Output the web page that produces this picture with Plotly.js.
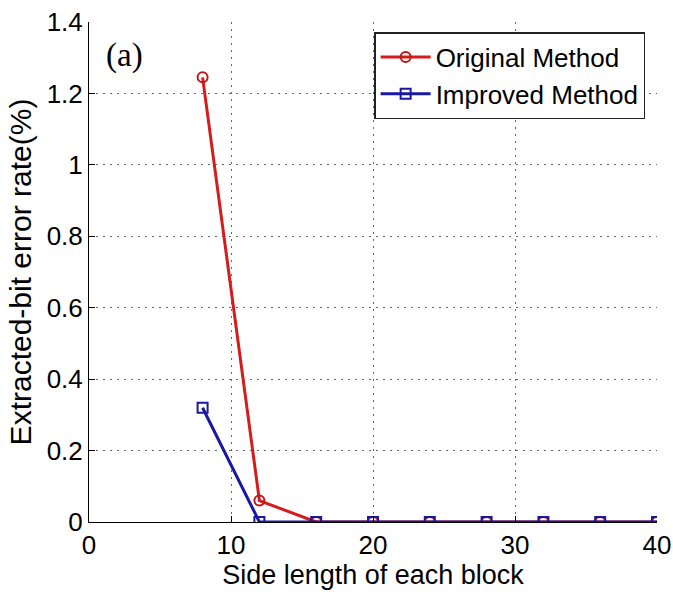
<!DOCTYPE html>
<html><head><meta charset="utf-8">
<script src="https://cdn.plot.ly/plotly-3.0.1.min.js"></script>
<style>body{margin:0;background:#fff}#chart{width:673px;height:596px}</style>
</head><body><div id="chart"></div>
<script>
const blockSizes = [8, 12, 16, 20, 24, 28, 32, 36, 40];
const originalMethod = [1.245, 0.06, 0, 0, 0, 0, 0, 0, 0];
const improvedMethod = [0.32, 0, 0, 0, 0, 0, 0, 0, 0];
const xTicks = [0, 10, 20, 30, 40];
const yTicks = [0, 0.2, 0.4, 0.6, 0.8, 1, 1.2, 1.4];
const yTickLabels = ['0', '0.2', '0.4', '0.6', '0.8', '1', '1.2', '1.4'];

const traces = [
  {x: blockSizes, y: originalMethod, name: 'Original Method', mode: 'lines+markers',
   line: {color: '#d41c1c', width: 3},
   marker: {symbol: 'circle-open', size: 10, color: '#c01818', line: {width: 2}}},
  {x: blockSizes, y: improvedMethod, name: 'Improved Method', mode: 'lines+markers',
   line: {color: '#1818a0', width: 3},
   marker: {symbol: 'square-open', size: 10, color: '#1818a0', line: {width: 2}}}
];
const fam = 'Liberation Sans, Arial, sans-serif';
const gridDash = '2px,5px';
const layout = {
  width: 673, height: 596,
  margin: {l: 89, r: 16, t: 22, b: 74},
  paper_bgcolor: '#fff', plot_bgcolor: '#fff',
  font: {family: fam, color: '#000'},
  showlegend: true,
  legend: {x: 0.502, y: 0.98, xanchor: 'left', yanchor: 'top',
    bgcolor: '#fff', bordercolor: '#222', borderwidth: 1.5,
    font: {family: fam, size: 26, color: '#000'}, itemwidth: 50, entrywidth: 268, entrywidthmode: 'pixels'},
  xaxis: {range: [0, 40], tickvals: xTicks, ticktext: xTicks.map(String),
    showline: true, linecolor: '#000', linewidth: 1, ticks: 'inside', ticklen: 6, tickcolor: '#000',
    showgrid: true, gridcolor: '#666', griddash: gridDash, gridwidth: 1, zeroline: false,
    tickfont: {size: 26, family: fam, color: '#000'},
    title: {text: 'Side length of each block', font: {size: 27, family: fam, color: '#000'}, standoff: 4}},
  yaxis: {range: [0, 1.4], tickvals: yTicks, ticktext: yTickLabels,
    showline: true, linecolor: '#000', linewidth: 1, ticks: 'inside', ticklen: 6, tickcolor: '#000',
    showgrid: true, gridcolor: '#666', griddash: gridDash, gridwidth: 1, zeroline: false,
    tickfont: {size: 26, family: fam, color: '#000'},
    title: {text: 'Extracted-bit error rate(%)', font: {size: 30, family: fam, color: '#000'}, standoff: 6}},
  annotations: [{text: '(a)', xref: 'paper', yref: 'paper', x: 0.026, y: 0.975, xanchor: 'left', yanchor: 'top',
    showarrow: false, font: {family: 'Liberation Serif, Times New Roman, serif', size: 33, color: '#000'}}]
};
Plotly.newPlot('chart', traces, layout, {staticPlot: true});
</script></body></html>
